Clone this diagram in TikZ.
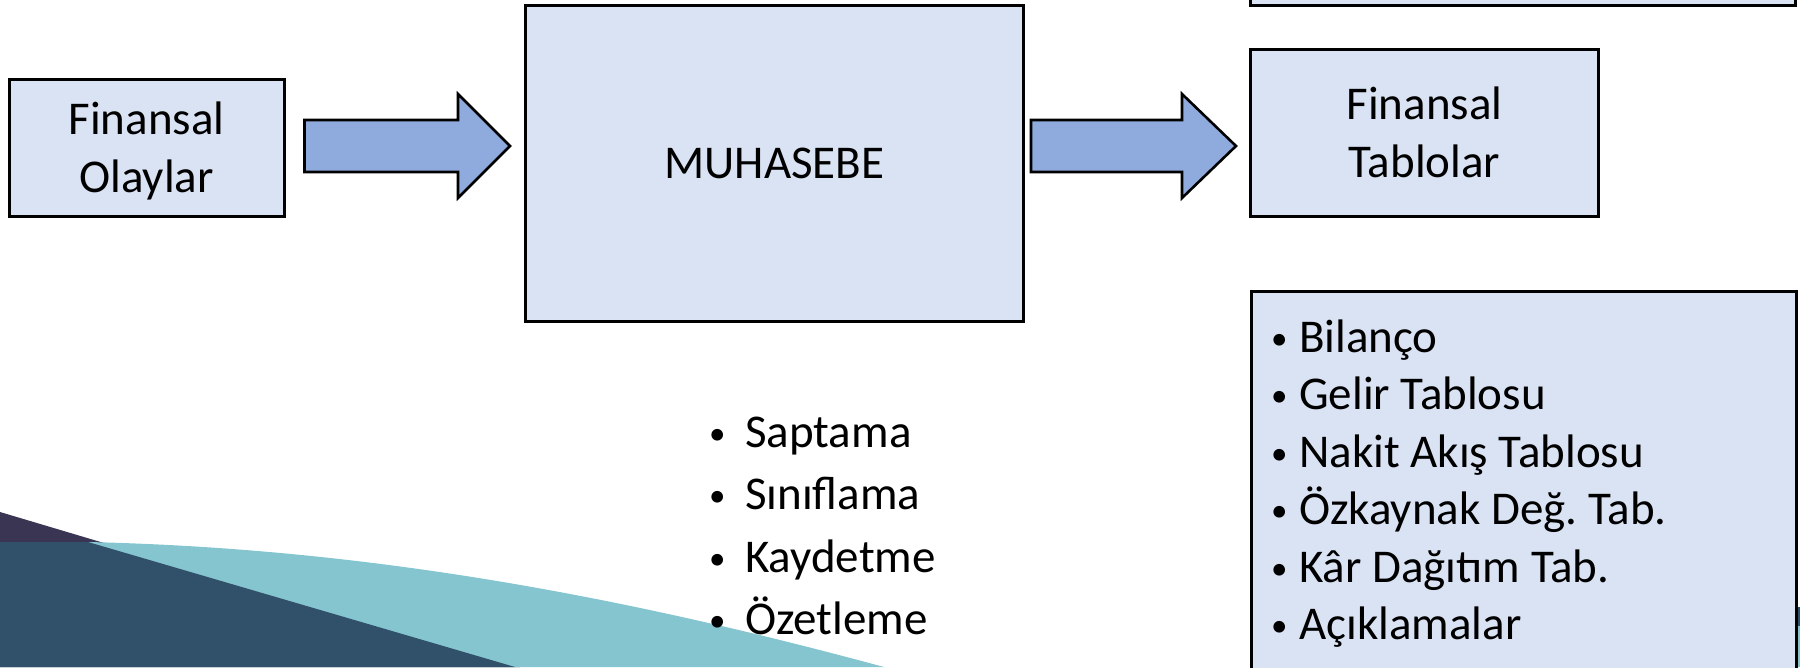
\documentclass[tikz,border=0pt]{standalone}
\usepackage{fontspec}
\setmainfont{Carlito}
\usetikzlibrary{calc}
\definecolor{boxfill}{HTML}{DAE3F3}
\definecolor{arrowfill}{HTML}{8FAADC}
\definecolor{wpurple}{HTML}{3A3553}
\definecolor{wnavy}{HTML}{31506A}
\definecolor{wteal}{HTML}{85C5D0}
\newcommand{\smallbul}{\raisebox{3pt}{\fontsize{33}{33}\selectfont •}}
\newcommand{\bulA}{\makebox[39pt][l]{\hspace{3pt}\smallbul}}
\newcommand{\bulB}{\makebox[31pt][l]{\hspace{3pt}\smallbul}}
\frenchspacing
\begin{document}
\begin{tikzpicture}[x=1pt,y=-1pt,
  box/.style={draw=black, line width=3pt, fill=boxfill, inner sep=0pt, align=center,
    font=\fontsize{47}{58}\selectfont},
  barrow/.style={draw=black, line width=2.6pt, fill=arrowfill, line join=miter},
  item/.style={anchor=base west, inner sep=0pt, font=\fontsize{47}{58}\selectfont}]
\useasboundingbox (0,0) rectangle (1800,667);
\begin{scope}
\clip (0,0) rectangle (1800,667);
% background waves
\fill[wpurple] (0,512) -- (520,667) -- (0,667) -- cycle;
\fill[wteal] (0,542) -- (88,542) .. controls (350,548) and (600,590) .. (884,667) -- (0,667) -- cycle;
\fill[wnavy] (0,542) -- (88,542) -- (515,667) -- (0,667) -- cycle;
\fill[wnavy] (1790,607) rectangle (1800,626);
\fill[wteal] (1790,626) rectangle (1800,667);
% boxes
\node[box, minimum width=275pt, minimum height=137pt, text depth=0pt] (olay) at (146.5,147.5) {Finansal\\Olaylar};
\node[box, minimum width=498pt, minimum height=316pt] (muh) at (774.5,163) {MUHASEBE};
\node[box, minimum width=348pt, minimum height=167pt] (ft) at (1424.5,132.5) {Finansal\\Tablolar};
\node[box, minimum width=545pt, minimum height=80pt] (topbox) at (1522.5,-35) {};
\node[box, minimum width=545pt, minimum height=420pt, anchor=north west] (list) at (1250,290) {};
% block arrows
\coordinate (a1s) at ($(olay.east)+(19,-1.5)$);
\coordinate (a1e) at ($(a1s -| muh.west)+(-14,0)$);
\draw[barrow] ($(a1s)+(0,-26)$) -- ($(a1e)+(-52,-26)$) -- ($(a1e)+(-52,-52)$) -- (a1e)
  -- ($(a1e)+(-52,52)$) -- ($(a1e)+(-52,26)$) -- ($(a1s)+(0,26)$) -- cycle;
\coordinate (a2s) at ($(muh.east)+(6,-17)$);
\coordinate (a2e) at ($(a2s -| ft.west)+(-13,0)$);
\draw[barrow] ($(a2s)+(0,-26)$) -- ($(a2e)+(-54,-26)$) -- ($(a2e)+(-54,-52)$) -- (a2e)
  -- ($(a2e)+(-54,52)$) -- ($(a2e)+(-54,26)$) -- ($(a2s)+(0,26)$) -- cycle;
% bullet list under MUHASEBE
\node[item] (s1) at (706,447) {\bulA Saptama};
\node[item] (s2) at (706,509.5) {\bulA Sınıflama};
\node[item] (s3) at (706,572) {\bulA Kaydetme};
\node[item] (s4) at (706,634.5) {\bulA Özetleme};
% bullet list of financial statements
\node[item] (t1) at (1268,352) {\bulB Bilanço};
\node[item] (t2) at (1268,409.5) {\bulB Gelir Tablosu};
\node[item] (t3) at (1268,467) {\bulB Nakit Akış Tablosu};
\node[item] (t4) at (1268,524.5) {\bulB Özkaynak Değ. Tab.};
\node[item] (t5) at (1268,582) {\bulB Kâr Dağıtım Tab.};
\node[item] (t6) at (1268,639.5) {\bulB Açıklamalar};
\end{scope}
\end{tikzpicture}
\end{document}
